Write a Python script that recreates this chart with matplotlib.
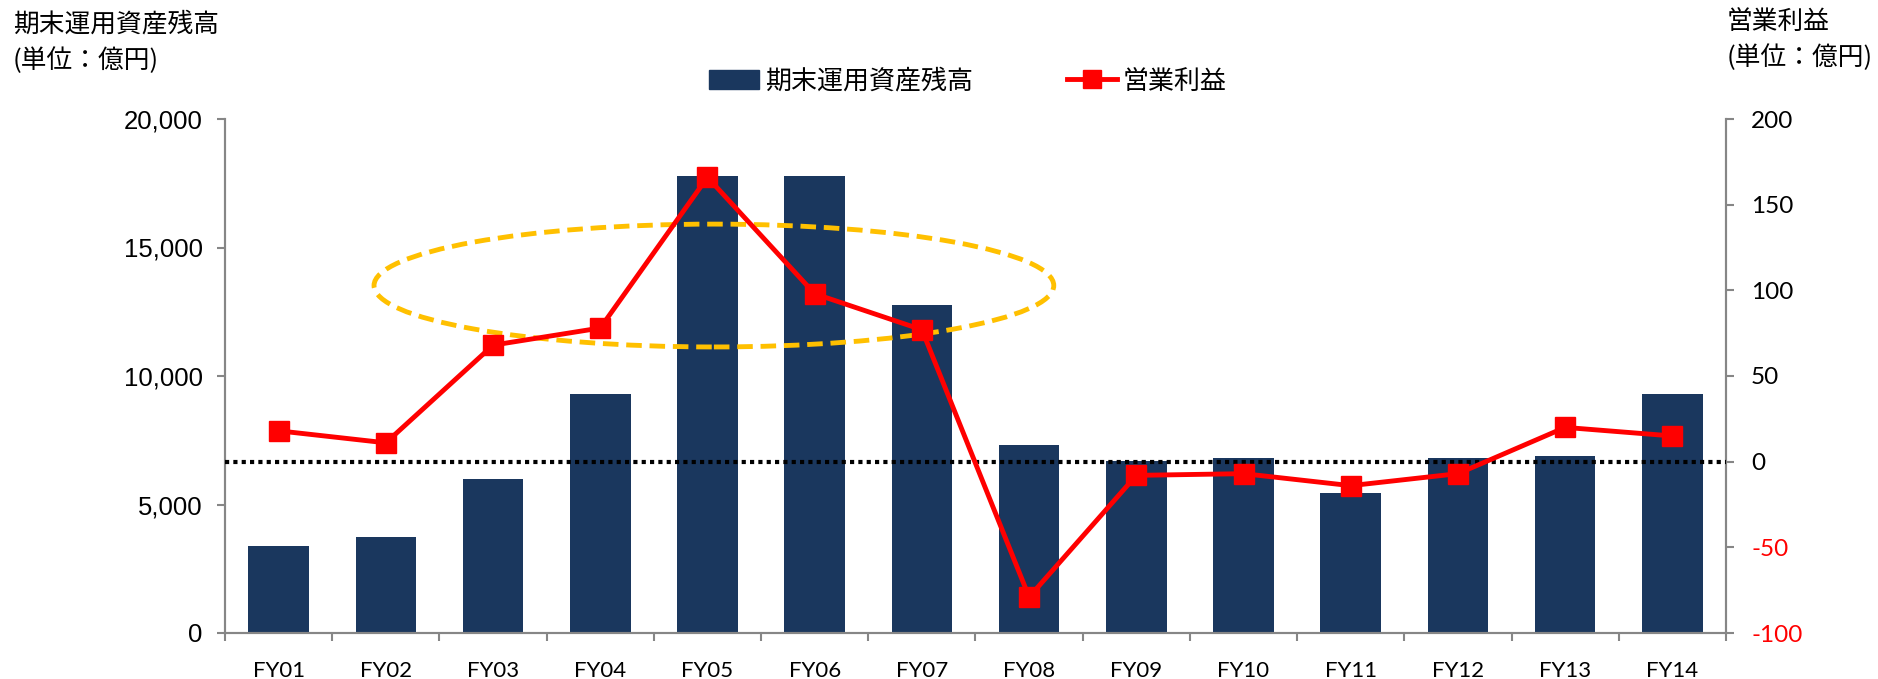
import numpy as np
import matplotlib
matplotlib.use("Agg")
import matplotlib.pyplot as plt
from matplotlib.patches import Ellipse
from matplotlib.lines import Line2D

# ---- data ----
categories = ["FY01", "FY02", "FY03", "FY04", "FY05", "FY06", "FY07",
              "FY08", "FY09", "FY10", "FY11", "FY12", "FY13", "FY14"]
assets = [3400, 3750, 6000, 9300, 17800, 17800, 12750,
          7300, 6700, 6800, 5450, 6800, 6900, 9300]
profit = [18, 11, 68, 78, 166, 98, 77, -79, -8, -7, -14, -7, 20, 15]
left_ticks = [0, 5000, 10000, 15000, 20000]
left_ticklabels = ["0", "5,000", "10,000", "15,000", "20,000"]
right_ticks = [-100, -50, 0, 50, 100, 150, 200]
bar_label = "期末運用資産残高"
line_label = "営業利益"
left_title = "期末運用資産残高\n(単位：億円)"
right_title = "営業利益\n(単位：億円)"

CJK = ["Noto Sans CJK JP", "DejaVu Sans"]
NAVY = "#1a375e"
RED = "#ff0000"
GRAY = "#868686"

fig = plt.figure(figsize=(18.78, 6.79), dpi=100)
ax = fig.add_axes([225 / 1878, 1 - 633 / 679, 1501 / 1878, 514 / 679])
ax2 = ax.twinx()

x = np.arange(len(categories))
bars = ax.bar(x, assets, width=0.565, color=NAVY, zorder=2)
ax.set_xlim(-0.5, len(categories) - 0.5)
ax.set_ylim(0, 20000)
ax.set_yticks(left_ticks, left_ticklabels)

# ellipse highlight (left-axis data coords)
ell = Ellipse((4.06, 13520), width=6.34, height=4780, fill=False,
              edgecolor="#ffc000", linewidth=3.5, linestyle=(0, (3.2, 1.6)),
              zorder=3)
ax.add_patch(ell)

# x ticks at category boundaries
ax.set_xticks(x, categories)
ax.set_xticks(np.arange(-0.5, len(categories)), minor=True)
ax.tick_params(axis="x", which="major", length=0, pad=20)
ax.tick_params(axis="x", which="minor", length=6, width=1.5, color=GRAY,
               direction="out")
for lab in ax.get_xticklabels():
    lab.set_fontfamily("Lato")
    lab.set_fontsize(16)

ax.tick_params(axis="y", length=6, width=1.5, color=GRAY, direction="out",
               pad=10)
for lab in ax.get_yticklabels():
    lab.set_fontfamily("Liberation Sans")
    lab.set_fontsize(18.5)

# right axis
ax2.plot(x, profit, color=RED, linewidth=3.5, marker="s", markersize=14,
         markeredgecolor=RED, zorder=4)
ax2.axhline(0, color="black", linewidth=3, linestyle=(0, (1, 1)), zorder=3)
ax2.set_ylim(-100, 200)
ax2.set_yticks(right_ticks, [str(t) for t in right_ticks])
ax2.tick_params(axis="y", length=6, width=1.5, color=GRAY, direction="out",
                pad=12)
for t, lab in zip(right_ticks, ax2.get_yticklabels()):
    lab.set_fontfamily("Lato")
    lab.set_fontsize(17.5)
    lab.set_color(RED if t < 0 else "black")

for a in (ax, ax2):
    a.spines["top"].set_visible(False)
    for s in ("left", "right", "bottom"):
        a.spines[s].set_color(GRAY)
        a.spines[s].set_linewidth(1.5)

# titles
fig.text(13 / 1878, 1 - 11 / 679, left_title, family=CJK, fontsize=18.5,
         ha="left", va="top", linespacing=1.5)
fig.text(1727 / 1878, 1 - 9 / 679, right_title, family=CJK, fontsize=18.5,
         ha="left", va="top", linespacing=1.45)

# legend
h_bar = plt.Rectangle((0, 0), 1, 1, color=NAVY)
h_line = Line2D([], [], color=RED, linewidth=3.5, marker="s", markersize=13)
leg = fig.legend([h_bar, h_line], [bar_label, line_label], loc="center",
                 bbox_to_anchor=(968 / 1878, 1 - 81 / 679), ncol=2,
                 frameon=False, prop={"family": CJK, "size": 18.7},
                 handlelength=1.92, handletextpad=0.23, columnspacing=3.6)

fig.savefig("out.png", dpi=100)
